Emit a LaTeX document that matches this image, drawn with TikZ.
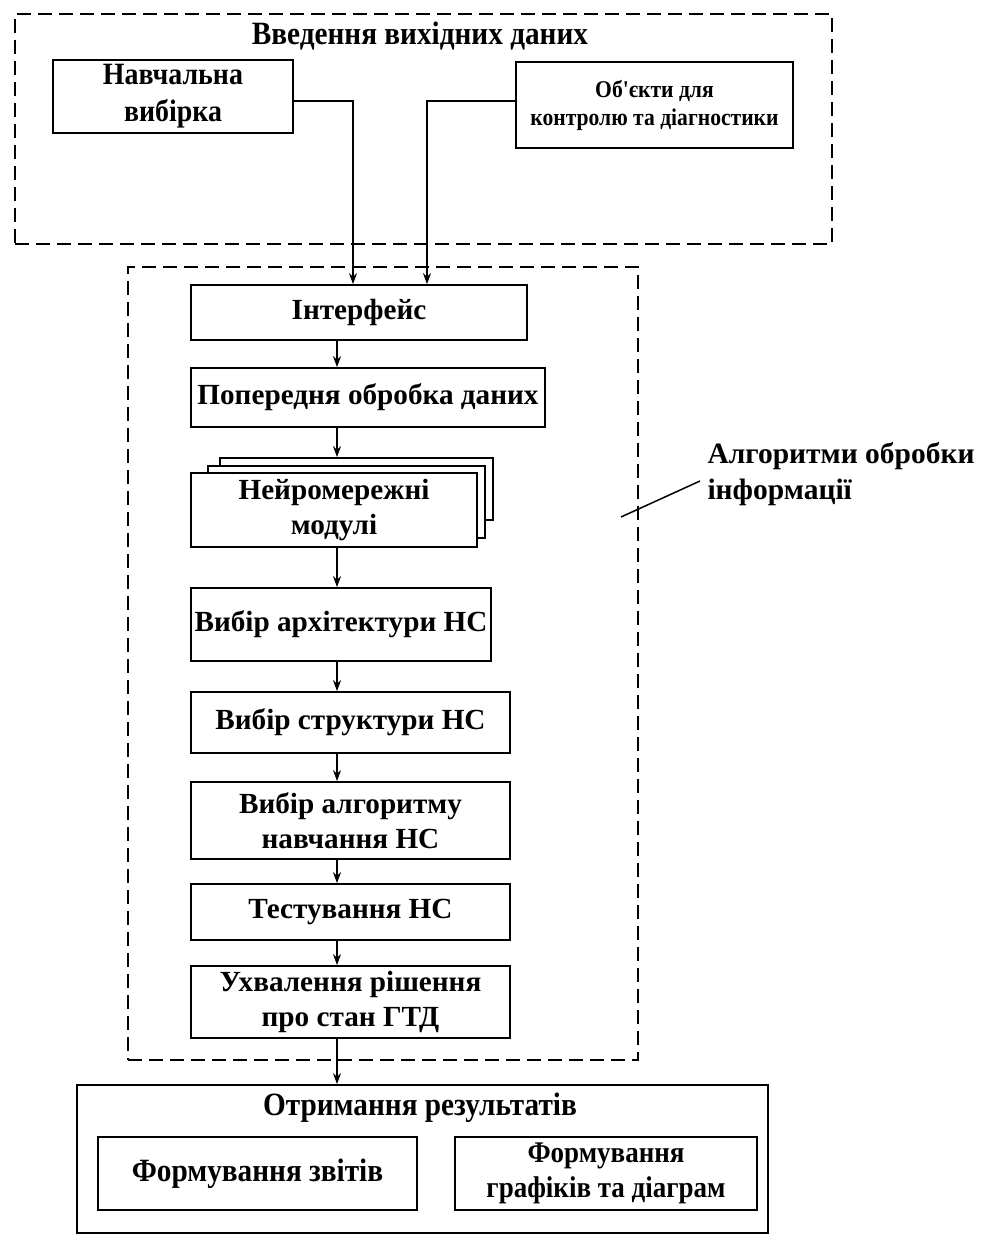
\documentclass[tikz,border=0pt]{standalone}
\usepackage{fontspec}
\setmainfont{Liberation Serif}
\newfontfamily\cond[FakeStretch=0.9]{Liberation Serif}
\usetikzlibrary{arrows.meta}
\begin{document}
\begin{tikzpicture}[x=1pt,y=-1pt,
  box/.style={draw, line width=1.8pt, fill=white, align=center, inner sep=0pt,
    font=\bfseries\fontsize{29.2}{35}\selectfont},
  cbox/.style={box, font=\cond\bfseries\fontsize{31}{37}\selectfont},
  frame/.style={draw, line width=2.8pt, dash pattern=on 14pt off 7pt, inner sep=0pt},
  arr/.style={line width=1.5pt, -{Stealth[length=11pt,width=8pt]}},
  lead/.style={line width=1.5pt}]
\useasboundingbox (0,0) rectangle (981,1234);

% input section
\node[frame, minimum width=817pt, minimum height=230pt] (inframe) at (423.5,129) {};
\node[font=\cond\bfseries\fontsize{32.5}{36}\selectfont] (intitle) at (420,36) {Введення вихідних даних};
\node[cbox, minimum width=240pt, minimum height=73pt] (nav) at (173,96.5) {Навчальна\\вибірка};
\node[cbox, minimum width=277pt, minimum height=86pt, font=\cond\bfseries\fontsize{24}{28}\selectfont] (obj) at (654.5,105) {Об'єкти для\\контролю та діагностики};

% processing section
\node[frame, minimum width=510pt, minimum height=793pt] (procframe) at (383,663.5) {};
\node[box, minimum width=336pt, minimum height=55pt] (intf) at (359,312.5) {Інтерфейс};
\node[box, minimum width=354pt, minimum height=59pt] (prep) at (368,397.5) {Попередня обробка даних};
% stacked module boxes
\node[box, minimum width=273pt, minimum height=62pt] (nm3) at (356.5,489) {};
\node[box, minimum width=277pt, minimum height=72pt] (nm2) at (346.5,502) {};
\node[box, minimum width=286pt, minimum height=74pt] (nm) at (334,510) {Нейромережні\\модулі};
\node[box, minimum width=300pt, minimum height=73pt] (arch) at (341,624.5) {Вибір архітектури НС};
\node[box, minimum width=319pt, minimum height=61pt] (struct) at (350.5,722.5) {Вибір структури НС};
\node[box, minimum width=319pt, minimum height=77pt] (alg) at (350.5,820.5) {Вибір алгоритму\\навчання НС};
\node[box, minimum width=319pt, minimum height=56pt] (test) at (350.5,912) {Тестування НС};
\node[box, minimum width=319pt, minimum height=72pt] (dec) at (350.5,1002) {Ухвалення рішення\\про стан ГТД};

% algorithms label
\node[anchor=west, align=left, font=\bfseries\fontsize{29.5}{36}\selectfont] (alabel) at (704,474) {Алгоритми обробки\\інформації};
\coordinate (leadA) at (621,517);
\coordinate (leadB) at (700,481);
\draw[lead] (leadA) -- (leadB);

% output section
\node[draw, line width=1.8pt, minimum width=691pt, minimum height=148pt, inner sep=0pt] (outframe) at (422.5,1159) {};
\node[font=\cond\bfseries\fontsize{32.5}{36}\selectfont] (outtitle) at (420,1108) {Отримання результатів};
\node[cbox, minimum width=319pt, minimum height=73pt, font=\cond\bfseries\fontsize{32.5}{37}\selectfont] (rep) at (257.5,1173.5) {Формування звітів};
\node[cbox, minimum width=302pt, minimum height=73pt, font=\cond\bfseries\fontsize{30}{35}\selectfont] (gr) at (606,1173.5) {Формування\\графіків та діаграм};

% connectors
\coordinate (j1) at (353,101);
\coordinate (j2) at (427,101);
\coordinate (axis) at (337,0);
\draw[arr] (nav.east |- j1) -| (intf.north -| j1);
\draw[arr] (obj.west |- j2) -| (intf.north -| j2);
\draw[arr] (intf.south -| axis) -- (prep.north -| axis);
\draw[arr] (prep.south -| axis) -- (nm3.north -| axis);
\draw[arr] (nm.south -| axis) -- (arch.north -| axis);
\draw[arr] (arch.south -| axis) -- (struct.north -| axis);
\draw[arr] (struct.south -| axis) -- (alg.north -| axis);
\draw[arr] (alg.south -| axis) -- (test.north -| axis);
\draw[arr] (test.south -| axis) -- (dec.north -| axis);
\draw[arr] (dec.south -| axis) -- (outframe.north -| axis);
\end{tikzpicture}
\end{document}
